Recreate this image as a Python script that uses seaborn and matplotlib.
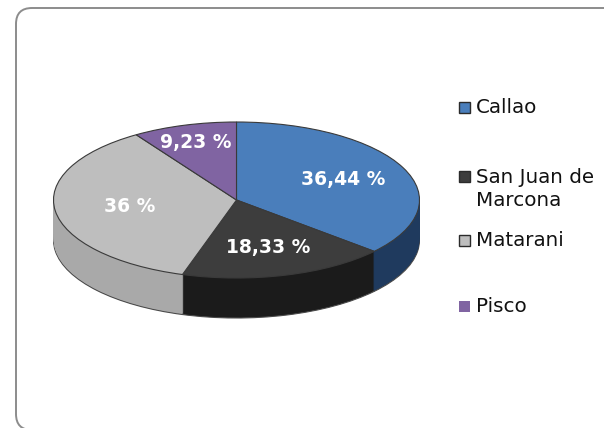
import matplotlib
matplotlib.use("Agg")
import matplotlib.pyplot as plt
from matplotlib.patches import FancyBboxPatch, Rectangle
from matplotlib.transforms import IdentityTransform
import seaborn as sns

# data
ports = ["Callao", "San Juan de\nMarcona", "Matarani", "Pisco"]
shares = [36.44, 18.33, 36.00, 9.23]
top_colors = ["#4a7ebb", "#3d3d3d", "#bebebe", "#8064a2"]
side_colors = ["#1f3a5e", "#1b1b1b", "#a9a9a9", "#56436f"]

W, H = 604, 428
sns.set_theme(style="white")
plt.rcParams["font.family"] = ["DejaVu Sans"]

fig = plt.figure(figsize=(W / 100, H / 100), dpi=100)


def px_box(x0, y0, x1, y1):
    """pixel box (origin top-left) -> figure fraction rect"""
    return [x0 / W, 1 - y1 / H, (x1 - x0) / W, (y1 - y0) / H]


def pct_label(p):
    return f"{p:.2f}".rstrip("0").rstrip(".").replace(".", ",") + " %"


# rounded chart-area border, runs off the right and bottom edges
fig.patches.append(FancyBboxPatch(
    (16, -2), 700, H - 6, boxstyle="round,pad=0,rounding_size=16",
    transform=IdentityTransform(), fill=False, ec="#8c8c8c", lw=1.4))

# pseudo-3D pie: stacked side layers, then the top face
cx_px, cy_px, rx_px, ry_px = 236.5, 200, 183, 78
ax_box = (40, 110, 435, 335)
ax = fig.add_axes(px_box(*ax_box))

n_layers = 40
depth = 40 / ry_px
for k in range(n_layers, 0, -1):
    edge = dict(edgecolor="#4a4a4a", linewidth=0.8) if k == n_layers else dict(linewidth=0)
    ax.pie(shares, colors=side_colors, startangle=90, counterclock=False,
           center=(0, -depth * k / n_layers), wedgeprops=edge)

wedges, texts, autotexts = ax.pie(
    shares, colors=top_colors, startangle=90, counterclock=False,
    autopct=pct_label, pctdistance=1.0,
    wedgeprops=dict(edgecolor="#3a3a3a", linewidth=0.8),
    textprops=dict(color="white", fontsize=13.5, fontweight="bold"))

# Excel puts the data labels at slightly different depths per slice
label_dist = [0.64, 0.63, 0.59, 0.77]
for t, d in zip(autotexts, label_dist):
    x, y = t.get_position()
    t.set_position((x * d, y * d))

ax.set_aspect("auto")
ax.set_xlim(-(cx_px - ax_box[0]) / rx_px, (ax_box[2] - cx_px) / rx_px)
ax.set_ylim(-(ax_box[3] - cy_px) / ry_px, (cy_px - ax_box[1]) / ry_px)
ax.axis("off")

# legend (Excel style, fixed slots)
lax = fig.add_axes([0, 0, 1, 1])
lax.set_xlim(0, W)
lax.set_ylim(H, 0)
lax.axis("off")
handle_y = [107, 176, 240, 306]
text_y = [107, 189, 240, 306]
for name, col, hy, ty in zip(ports, top_colors, handle_y, text_y):
    ec = "none" if name == "Pisco" else "#2b2b2b"
    lax.add_patch(Rectangle((459, hy - 5), 10.5, 10.5, fc=col, ec=ec, lw=1))
    lax.text(476, ty, name, ha="left", va="center", fontsize=14.3,
             color="#111111", linespacing=1.25)

fig.savefig("out.png", dpi=100)
